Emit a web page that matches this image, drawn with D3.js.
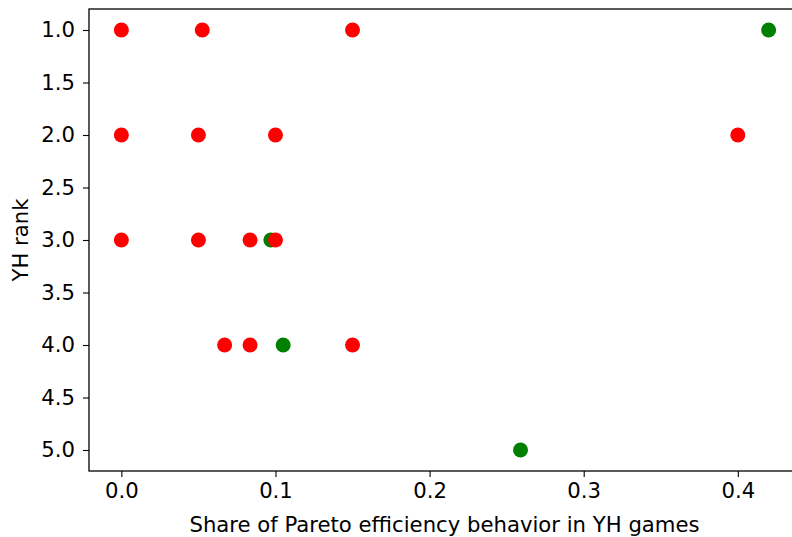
<!DOCTYPE html>
<html>
<head>
<meta charset="utf-8">
<script src="https://cdn.jsdelivr.net/npm/d3@7"></script>
<style>
  body { margin: 0; background: #fff; }
  text { font-family: "DejaVu Sans", sans-serif; fill: #000; }
</style>
</head>
<body>
<div id="chart"></div>
<script>
// share of Pareto efficiency behaviour vs. YH rank
const greenShare = [0.42, 0.097, 0.105, 0.259];
const greenRank  = [1, 3, 4, 5];
const redShare = [0, 0.0525, 0.15, 0, 0.05, 0.1, 0.4, 0, 0.05, 0.0835, 0.1, 0.067, 0.0835, 0.15];
const redRank  = [1, 1, 1, 2, 2, 2, 2, 3, 3, 3, 3, 4, 4, 4];
const xTicks = [0.0, 0.1, 0.2, 0.3, 0.4];
const yTicks = [1.0, 1.5, 2.0, 2.5, 3.0, 3.5, 4.0, 4.5, 5.0];

const width = 792, height = 537;
const margin = { left: 89, top: 9, bottom: 471, right: 801 };
const fontSize = 21.2;

const svg = d3.select('#chart').append('svg')
  .attr('width', width)
  .attr('height', height);

const x = d3.scaleLinear().domain([-0.021, 0.441]).range([margin.left, margin.right]);
const y = d3.scaleLinear().domain([0.8, 5.2]).range([margin.top, margin.bottom]);

// axes
const xAxis = svg.append('g')
  .attr('transform', `translate(0,${margin.bottom})`)
  .call(d3.axisBottom(x).tickValues(xTicks).tickFormat(d3.format('.1f')).tickSize(6).tickPadding(6));
const yAxis = svg.append('g')
  .attr('transform', `translate(${margin.left},0)`)
  .call(d3.axisLeft(y).tickValues(yTicks).tickFormat(d3.format('.1f')).tickSize(6).tickPadding(8));

[xAxis, yAxis].forEach(g => {
  g.select('.domain').remove();
  g.selectAll('line').attr('stroke', '#000').attr('stroke-width', 1.1);
  g.selectAll('text').attr('font-size', fontSize).attr('fill', '#000');
});

// frame
svg.append('rect')
  .attr('x', margin.left).attr('y', margin.top)
  .attr('width', margin.right - margin.left).attr('height', margin.bottom - margin.top)
  .attr('fill', 'none').attr('stroke', '#000').attr('stroke-width', 1.3);

// points: green first, red on top
svg.append('g').selectAll('circle')
  .data(d3.range(greenShare.length))
  .join('circle')
  .attr('cx', i => x(greenShare[i]))
  .attr('cy', i => y(greenRank[i]))
  .attr('r', 7.5)
  .attr('fill', 'green');

svg.append('g').selectAll('circle')
  .data(d3.range(redShare.length))
  .join('circle')
  .attr('cx', i => x(redShare[i]))
  .attr('cy', i => y(redRank[i]))
  .attr('r', 7.5)
  .attr('fill', 'red');

// labels
svg.append('text')
  .attr('x', 444.5).attr('y', 532)
  .attr('text-anchor', 'middle')
  .attr('font-size', fontSize)
  .text('Share of Pareto efficiency behavior in YH games');

svg.append('text')
  .attr('transform', `translate(28,${(margin.top + margin.bottom) / 2}) rotate(-90)`)
  .attr('text-anchor', 'middle')
  .attr('font-size', fontSize)
  .text('YH rank');
</script>
</body>
</html>
